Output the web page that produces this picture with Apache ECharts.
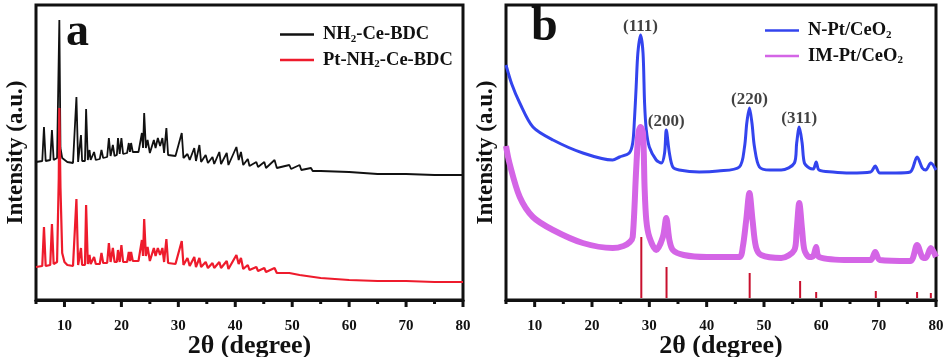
<!DOCTYPE html>
<html>
<head>
<meta charset="utf-8">
<script src="https://cdn.jsdelivr.net/npm/echarts@6/dist/echarts.min.js"></script>
<style>
  html, body { margin: 0; padding: 0; background: #fff; }
  #main { width: 949px; height: 357px; }
</style>
</head>
<body>
<div id="main"></div>
<script>
// tick positions
var majorTicks = [10, 20, 30, 40, 50, 60, 70, 80];
var minorTicks = [5, 15, 25, 35, 45, 55, 65, 75];

// panel a: [2theta, intensity]
var bdcData = [[5,136],[6.1,137],[6.4,171],[6.7,137],[7.5,138],[7.8,168],[8.1,138],[8.7,140],[9.1,278],[9.3,150],[9.6,140],[10.5,136],[11.5,135],[12.1,201],[12.4,136],[12.9,163],[13.1,137],[13.6,137],[13.8,189],[14.1,138],[14.4,148],[14.6,138],[15.2,146],[15.5,138],[16.2,139],[16.5,148],[16.8,140],[17.5,141],[17.8,160],[18.1,142],[18.5,153],[18.8,142],[19.2,143],[19.4,160],[19.7,144],[20.0,160],[20.3,144],[21.0,145],[21.3,155],[21.5,146],[21.7,155],[22.0,146],[23.0,146],[23.6,165],[23.8,150],[24.0,185],[24.3,150],[24.6,158],[25.0,145],[25.7,158],[26.0,150],[26.4,160],[26.8,152],[27.2,160],[27.5,145],[27.9,170],[28.2,143],[29.5,142],[30.6,165],[30.9,140],[31.6,144],[32.0,138],[32.8,150],[33.1,137],[33.7,153],[34.0,136],[34.8,143],[35.2,135],[36.0,141],[36.3,134],[37.2,146],[37.5,134],[38.5,145],[38.8,133],[40.2,151],[40.6,138],[41.0,146],[41.4,133],[42.2,139],[42.5,132],[43.7,136],[44.0,131],[45.1,136],[45.4,130],[46.9,138],[47.3,130],[49.5,133],[49.8,129],[51.3,133],[51.6,128],[53.3,130],[53.6,127],[55,127],[60,126],[65,124],[70,124],[75,123],[80,123]];

var ptBdcData = [[5,31],[6.1,32],[6.4,71],[6.7,32],[7.5,33],[7.8,74],[8.1,34],[8.7,36],[9.0,120],[9.1,190],[9.3,110],[9.6,45],[10.0,36],[10.5,33],[11.5,32],[12.1,99],[12.4,33],[12.9,50],[13.1,33],[13.6,33],[13.8,93],[14.1,34],[14.4,43],[14.6,34],[15.2,41],[15.5,34],[16.2,34],[16.5,45],[16.8,35],[17.5,35],[17.8,55],[18.1,36],[18.5,50],[18.8,36],[19.2,36],[19.4,48],[19.7,36],[20.0,53],[20.3,36],[21.0,36],[21.3,46],[21.5,37],[21.7,46],[22.0,37],[23.0,37],[23.6,58],[23.8,42],[24.0,79],[24.3,42],[24.6,51],[25.0,37],[25.7,50],[26.0,42],[26.4,50],[26.8,43],[27.2,50],[27.5,36],[27.9,59],[28.2,35],[29.5,34],[30.6,57],[30.9,33],[31.6,40],[32.0,32],[32.8,41],[33.1,31],[33.7,40],[34.0,31],[34.8,36],[35.2,30],[36.0,35],[36.3,30],[37.2,36],[37.5,30],[38.5,37],[38.8,29],[40.2,43],[40.6,34],[41.0,40],[41.4,29],[42.2,33],[42.5,28],[43.7,31],[44.0,27],[45.1,30],[45.4,26],[46.9,30],[47.3,25],[49.5,25],[49.8,23],[51.3,23],[51.6,22],[55,20],[60,18],[65,17],[70,17],[75,16],[80,16]];

// panel b
var nPtData = [[5,233],[6,214],[7.4,195],[9.7,171],[13.2,158],[18.4,145],[23.6,138],[24.8,141],[26.5,145],[27.1,155],[27.4,178],[27.7,211],[28.0,245],[28.47,263],[28.9,245],[29.17,195],[29.47,168],[30.0,151],[31.2,138],[32.1,135],[32.66,145],[32.95,168],[33.5,145],[34.1,131],[35.2,128],[38.7,126],[42,127],[45.7,131],[46.6,151],[47.0,175],[47.46,190],[47.9,175],[48.34,151],[49.2,131],[51,128],[53,128],[55.3,135],[55.7,155],[56.15,171],[56.65,155],[57.05,135],[57.9,130],[58.6,129],[59.1,136],[59.6,128],[62,126],[65,125],[68.6,126],[69.4,132],[70.2,125],[73,125],[75.5,126],[76.7,141],[77.6,130],[78.2,128],[79.1,135],[80,128]];

var imPtData = [[5,152],[5.6,135],[7.4,101],[9.7,81],[13.2,68],[18.4,55],[23.6,50],[25.5,52],[26.6,56],[27.1,61],[27.7,128],[28.1,165],[28.47,171],[28.9,165],[29.17,111],[29.47,78],[30.0,61],[31.2,48],[32.36,61],[32.95,80],[33.5,58],[34.1,48],[36,43],[40,41],[45.7,41],[46.3,51],[46.9,78],[47.46,105],[48.0,78],[48.6,51],[49.5,43],[53,40],[55.3,48],[55.7,68],[56.15,95],[56.65,68],[57.05,48],[57.9,41],[58.6,42],[59.1,51],[59.6,41],[65,38],[68.6,38],[69.4,46],[70.2,38],[75.5,37],[76.7,53],[77.6,41],[78.2,40],[79.1,50],[80,41]];

// CeO2 reference pattern
var refSticks = [[28.6,61],[33.0,31],[47.5,25],[56.3,17],[59.1,6],[69.5,7],[76.7,6],[79.1,5]];

// (hkl) labels above N-Pt/CeO2 peaks
var hklNames = ['(111)', '(200)', '(220)', '(311)'];
var hklPeaks = [[28.47,263],[32.95,168],[47.46,190],[56.15,171]];

var Y_MIN = -2, Y_MAX = 293;
var serif = '"Liberation Serif", "DejaVu Serif", serif';
var subRich = {
  s: { fontSize: 11, fontWeight: 'bold', fontFamily: serif, padding: [9, 0, 0, 0] }
};
var legendNames = {
  'NH2-Ce-BDC': 'NH{s|2}-Ce-BDC',
  'Pt-NH2-Ce-BDC': 'Pt-NH{s|2}-Ce-BDC',
  'N-Pt/CeO2': 'N-Pt/CeO{s|2}',
  'IM-Pt/CeO2': 'IM-Pt/CeO{s|2}'
};

function xAxis(gi) {
  return {
    type: 'value', gridIndex: gi, min: 5, max: 80, position: 'bottom',
    name: '2θ (degree)', nameLocation: 'middle', nameGap: 33, nameMoveOverlap: false,
    nameTextStyle: { fontFamily: serif, fontWeight: 'bold', fontSize: 26, color: '#111' },
    axisLine: { show: true, onZero: false, lineStyle: { color: '#111', width: 3 } },
    axisTick: { show: false },
    axisLabel: { customValues: majorTicks, margin: 19, fontFamily: serif, fontWeight: 'bold', fontSize: 15, color: '#111' },
    splitLine: { show: false }
  };
}

function yAxis(gi) {
  return {
    type: 'value', gridIndex: gi, min: Y_MIN, max: Y_MAX,
    name: 'Intensity (a.u.)', nameLocation: 'middle', nameGap: 8,
    nameTextStyle: { fontFamily: serif, fontWeight: 'bold', fontSize: 23, color: '#111' },
    axisLine: { show: false }, axisTick: { show: false },
    axisLabel: { show: false }, splitLine: { show: false }
  };
}

function legend(names, left, top) {
  return {
    orient: 'vertical', left: left, top: top, itemGap: 6,
    icon: 'rect', itemWidth: 34, itemHeight: 2.5,
    data: names,
    formatter: function (n) { return legendNames[n]; },
    textStyle: { fontFamily: serif, fontWeight: 'bold', fontSize: 18.5, color: '#111', padding: [0, 0, 0, 4], rich: subRich }
  };
}

var myChart = echarts.init(document.getElementById('main'));

myChart.setOption({
  animation: false,
  grid: [
    { left: 36, right: 486, top: 5, bottom: 57, outerBoundsMode: 'none', show: true, borderColor: '#111', borderWidth: 3 },
    { left: 506, right: 13, top: 5, bottom: 57, outerBoundsMode: 'none', show: true, borderColor: '#111', borderWidth: 3 }
  ],
  xAxis: [xAxis(0), xAxis(1)],
  yAxis: [yAxis(0), yAxis(1)],
  legend: [
    legend(['NH2-Ce-BDC', 'Pt-NH2-Ce-BDC'], 275, 20),
    legend(['N-Pt/CeO2', 'IM-Pt/CeO2'], 760, 16)
  ],
  series: [
    {
      name: 'NH2-Ce-BDC', type: 'line', xAxisIndex: 0, yAxisIndex: 0,
      data: bdcData, symbol: 'none', lineStyle: { color: '#111', width: 1.8 }, itemStyle: { color: '#111' }
    },
    {
      name: 'Pt-NH2-Ce-BDC', type: 'line', xAxisIndex: 0, yAxisIndex: 0,
      data: ptBdcData, symbol: 'none', lineStyle: { color: '#ee1b2c', width: 2.2 }, itemStyle: { color: '#ee1b2c' }
    },
    {
      name: 'N-Pt/CeO2', type: 'line', xAxisIndex: 1, yAxisIndex: 1,
      data: nPtData, symbol: 'none', smooth: 0.3, lineStyle: { color: '#3344ee', width: 3 }, itemStyle: { color: '#3344ee' }
    },
    {
      name: 'IM-Pt/CeO2', type: 'line', xAxisIndex: 1, yAxisIndex: 1,
      data: imPtData, symbol: 'none', smooth: 0.3, lineStyle: { color: '#d465e6', width: 6 }, itemStyle: { color: '#d465e6' }
    },
    {
      name: 'ref', type: 'bar', xAxisIndex: 1, yAxisIndex: 1,
      data: refSticks, barWidth: 2, itemStyle: { color: '#c8102e' }
    },
    {
      name: 'hkl', type: 'scatter', xAxisIndex: 1, yAxisIndex: 1,
      data: hklPeaks.map(function (p, i) { return { name: hklNames[i], value: p }; }),
      symbolSize: 0,
      label: { show: true, position: 'top', distance: 0, formatter: '{b}', fontFamily: serif, fontWeight: 'bold', fontSize: 17, color: '#111' }
    }
  ]
});

// panel letters and outward tick marks (tick positions come from the axis scale)
var graphics = [
  { type: 'text', left: 66, top: 10, z: 100, style: { text: 'a', font: 'bold 46px ' + serif, fill: '#111' } },
  { type: 'text', left: 531, top: 4, z: 100, style: { text: 'b', font: 'bold 48px ' + serif, fill: '#111' } }
];
[0, 1].forEach(function (gi) {
  [[majorTicks, 7], [minorTicks, 4]].forEach(function (set) {
    set[0].forEach(function (v) {
      var p = myChart.convertToPixel({ xAxisIndex: gi, yAxisIndex: gi }, [v, Y_MIN]);
      graphics.push({
        type: 'line', z: 100, silent: true,
        shape: { x1: p[0], y1: p[1], x2: p[0], y2: p[1] + set[1] },
        style: { stroke: '#111', lineWidth: 3 }
      });
    });
  });
});
myChart.setOption({ graphic: graphics });
</script>
</body>
</html>
